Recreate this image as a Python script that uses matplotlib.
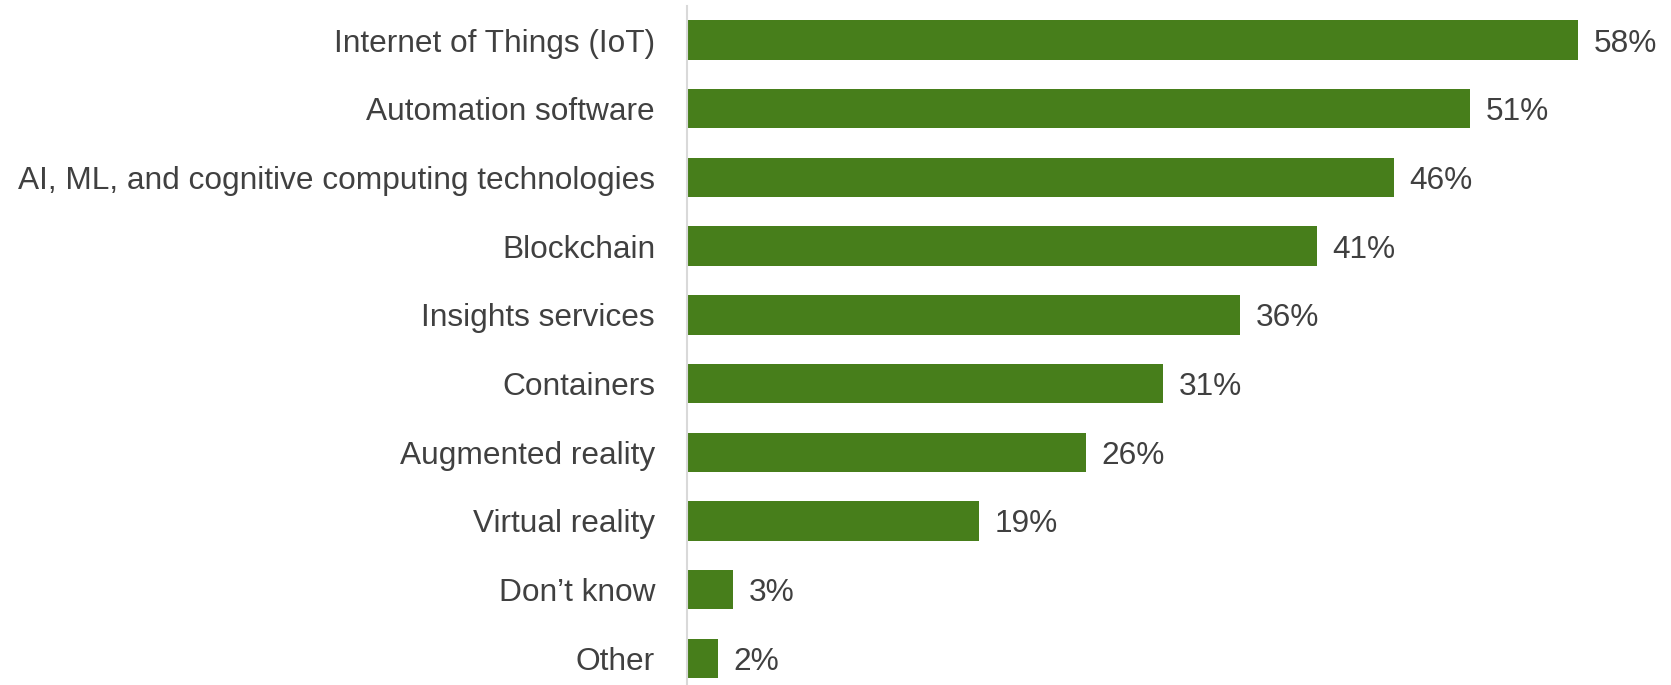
import matplotlib
matplotlib.use('Agg')
import matplotlib.pyplot as plt

categories = ['Internet of Things (IoT)', 'Automation software',
              'AI, ML, and cognitive computing technologies', 'Blockchain',
              'Insights services', 'Containers', 'Augmented reality',
              'Virtual reality', 'Don\u2019t know', 'Other']
values = [58, 51, 46, 41, 36, 31, 26, 19, 3, 2]

plt.rcParams['font.family'] = ['Liberation Sans', 'DejaVu Sans']

fig = plt.figure(figsize=(16.71, 6.85), dpi=100)
ax = fig.add_axes([687 / 1671, 0.9917 - 1.003, 64 * 15.36 / 1671, 1.003])

ypos = list(range(len(categories)))
ax.barh(ypos, values, height=0.575, color='#477E1B')
for y, v in zip(ypos, values):
    ax.text(v + 1.0, y, f'{v}%', va='center_baseline', ha='left', fontsize=22.8, color='#404040')

ax.set_xlim(0, 64)
ax.set_ylim(9.5, -0.5)
ax.set_yticks(ypos)
ax.set_yticklabels(categories, fontsize=22.8, color='#404040', va='center_baseline')
ax.tick_params(axis='y', length=0, pad=23)
ax.set_xticks([])
for s in ['top', 'right', 'bottom']:
    ax.spines[s].set_visible(False)
ax.spines['left'].set_color('#d9d9d9')
ax.spines['left'].set_linewidth(1.5)

fig.savefig('out.png', dpi=100)
